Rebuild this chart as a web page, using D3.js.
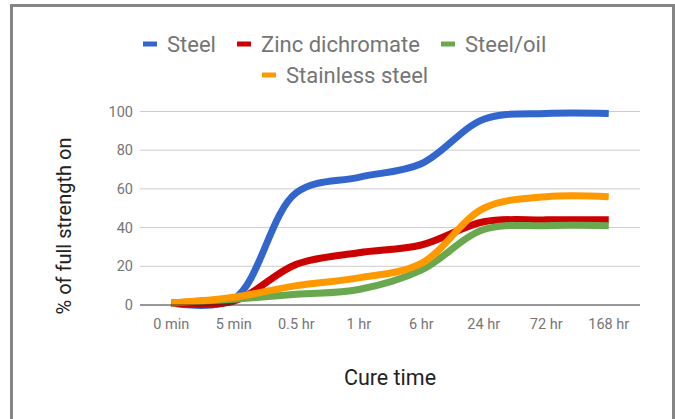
<!DOCTYPE html>
<html><head><meta charset="utf-8">
<script src="https://cdn.jsdelivr.net/npm/d3@7"></script>
<style>html,body{margin:0;padding:0;background:#fff;}svg{display:block;font-family:Roboto,"Noto Sans",sans-serif;}</style>
</head><body>
<svg id="c" width="675" height="419"></svg>
<script>
const categories = ["0 min","5 min","0.5 hr","1 hr","6 hr","24 hr","72 hr","168 hr"];
const seriesNames = ["Steel","Zinc dichromate","Steel/oil","Stainless steel"];
const steel = [1, 3, 58, 66, 73, 96, 99, 99];
const zinc = [1, 2, 21, 27, 31, 43, 44, 44];
const steelOil = [1, 3, 5.5, 8, 18, 39, 41, 41];
const stainless = [1, 4, 10, 14, 21.5, 50, 56, 56];
const yTicks = [0, 20, 40, 60, 80, 100];
const colors = ["#3366cc","#cc0000","#6aa84f","#ff9900"];
const allSeries = [steel, zinc, steelOil, stainless];

const svg = d3.select("#c");
// frame
svg.append("path").attr("d","M11.5,419 V5.5 H673.5 V419").attr("fill","none").attr("stroke","#858585").attr("stroke-width",3);

const x = d3.scaleBand().domain(categories).range([140,640]);
const y = d3.scaleLinear().domain([0,100]).range([305,111.5]);

// grid
svg.append("g").selectAll("line").data(yTicks.filter(d=>d>0)).join("line")
  .attr("x1",140).attr("x2",640).attr("y1",d=>y(d)).attr("y2",d=>y(d))
  .attr("stroke","#cccccc").attr("stroke-width",1);

// y axis labels
const ya = svg.append("g").attr("transform","translate(140,0)")
  .call(d3.axisLeft(y).tickValues(yTicks).tickSize(0).tickPadding(7));
ya.select(".domain").remove();
ya.selectAll("text").attr("font-family","Roboto").attr("font-size",14.5).attr("fill","#757575");

// x axis
const xa = svg.append("g").attr("transform","translate(0,305)")
  .call(d3.axisBottom(x).tickSize(0).tickPadding(14));
xa.select(".domain").remove();
xa.selectAll("text").attr("font-family","Roboto").attr("font-size",14.5).attr("fill","#757575");

// lines
const line = d3.line().x((d,i)=>x(categories[i])+x.bandwidth()/2).y(d=>y(d)).curve(d3.curveCatmullRom.alpha(0.5));
svg.append("g").selectAll("path").data(allSeries).join("path")
  .attr("d",d=>line(d)).attr("fill","none")
  .attr("stroke",(d,i)=>colors[i]).attr("stroke-width",7).attr("stroke-linejoin","round");

// baseline
svg.append("line").attr("x1",140).attr("x2",640).attr("y1",y(0)).attr("y2",y(0)).attr("stroke","#333").attr("stroke-width",1);

// legend
const legendItems = [
  {i:0, x:143, y:44},
  {i:1, x:237, y:44},
  {i:2, x:441, y:44},
  {i:3, x:262, y:75}
];
const lg = svg.append("g").selectAll("g").data(legendItems).join("g")
  .attr("transform",d=>`translate(${d.x},${d.y})`);
lg.append("rect").attr("x",0).attr("y",-2.5).attr("width",14).attr("height",5).attr("fill",d=>colors[d.i]);
lg.append("text").attr("x",24).attr("y",0).attr("dy","0.35em").attr("font-size",22)
  .attr("fill","#757575").text(d=>seriesNames[d.i]);

// axis titles
svg.append("text").attr("transform","translate(71,226) rotate(-90)").attr("text-anchor","middle")
  .attr("font-size",20).attr("fill","#222").text("% of full strength on");
svg.append("text").attr("x",390).attr("y",385).attr("text-anchor","middle")
  .attr("font-size",21.5).attr("fill","#222").text("Cure time");
</script>
</body></html>
